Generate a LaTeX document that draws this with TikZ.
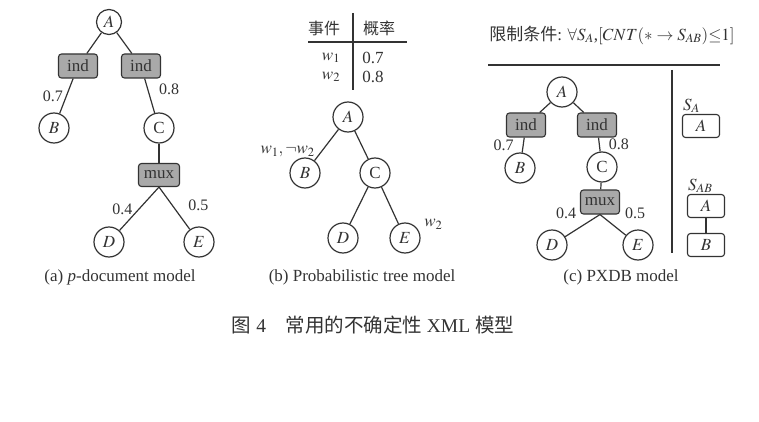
\documentclass[tikz,border=0pt]{standalone}
\usepackage{mathptmx}
\usepackage{fontspec}
\setmainfont{Liberation Serif}
\newfontfamily\cjk{Noto Sans CJK SC}
\usetikzlibrary{positioning}
\definecolor{opfill}{HTML}{A9A9A9}
\definecolor{ink}{HTML}{333333}

\begin{document}
\begin{tikzpicture}[x=1pt, y=-1pt,
  font=\fontsize{17}{20}\selectfont,
  every node/.style={text=ink},
  vtx/.style={circle, draw=ink, line width=1.2pt, minimum size=30pt, inner sep=0pt, fill=white},
  op/.style={draw=ink, fill=opfill, rounded corners=3pt, line width=1.1pt, minimum width=39pt, minimum height=24pt, inner sep=0pt},
  sbox/.style={draw=ink, rounded corners=3pt, line width=1.1pt, minimum width=37pt, minimum height=23pt, inner sep=0pt},
  lnk/.style={draw=ink, line width=1.2pt},
  rule/.style={draw=ink, line width=1.3pt},
  prob/.style={font=\fontsize{16}{18}\selectfont, inner sep=1pt},
  captxt/.style={font=\fontsize{17}{20}\selectfont}]
\useasboundingbox (0,0) rectangle (759,422);

% (a) p-document
\node[vtx, minimum size=25pt] (aA) at (109,22) {$A$};
\node[op] (aI1) at (78,66) {ind};
\node[op] (aI2) at (141,66) {ind};
\node[vtx] (aB) at (54,128) {$B$};
\node[vtx] (aC) at (159,128) {C};
\node[op, minimum width=41pt, minimum height=23pt] (aM) at (159,175) {mux};
\node[vtx] (aD) at (109,242) {$D$};
\node[vtx] (aE) at (199,242) {$E$};
\draw[lnk] (aA) -- (aI1);
\draw[lnk] (aA) -- (aI2);
\draw[lnk] (aI1) -- node[prob, left=2pt] {0.7} (aB);
\draw[lnk] (aI2) -- node[prob, right=10pt, pos=0.3] {0.8} (aC);
\draw[lnk] (aC) -- (aM);
\draw[lnk] (aM.south) -- node[prob, xshift=-17pt, yshift=-1pt] {0.4} (aD);
\draw[lnk] (aM.south) -- node[prob, xshift=24pt, yshift=3pt] {0.5} (aE);
\node[captxt] (capA) at (120,277) {(a)~\textit{p}-document model};

% (b) probabilistic tree
\node[font=\fontsize{16}{18}\selectfont] (hEvt) at (324,28) {\cjk 事件};
\node[font=\fontsize{16}{18}\selectfont] (hPr) at (379,28) {\cjk 概率};
\node (w1) at (331,58) {$w_1$};
\node (p1) at (373,58) {0.7};
\node (w2) at (331,77) {$w_2$};
\node (p2) at (373,77) {0.8};
\draw[rule] (308,42) -- (407,42);
\draw[rule] (353,13) -- (353,90);
\node[vtx] (bA) at (348,117) {$A$};
\node[vtx] (bB) at (305,173) {$B$};
\node[vtx] (bC) at (375,173) {C};
\node[vtx] (bD) at (343,238) {$D$};
\node[vtx, label={[inner sep=1pt, label distance=4pt]22:$w_2$}] (bE) at (405,238) {$E$};
\draw[lnk] (bA) -- node[anchor=east, pos=0.8, xshift=-3pt, yshift=3pt, inner sep=1pt] {$w_1,\neg w_2$} (bB);
\draw[lnk] (bA) -- (bC);
\draw[lnk] (bC) -- (bD);
\draw[lnk] (bC) -- (bE);
\node[captxt] (capB) at (362,277) {(b)~Probabilistic tree model};

% (c) PXDB
\node (cons) at (612,35) {{\cjk 限制条件}: $\forall S_A$,$[CNT(\ast\rightarrow S_{AB}){\leq}1]$};
\draw[rule] (488,65) -- (720,65);
\draw[rule] (672,70) -- (672,253);
\node[vtx] (cA) at (562,92) {$A$};
\node[op] (cI1) at (526,125) {ind};
\node[op] (cI2) at (597,125) {ind};
\node[vtx] (cB) at (520,168) {$B$};
\node[vtx] (cC) at (602,167) {C};
\node[op] (cM) at (600,202) {mux};
\node[vtx] (cD) at (552,245) {$D$};
\node[vtx] (cE) at (638,245) {$E$};
\draw[lnk] (cA) -- (cI1);
\draw[lnk] (cA) -- (cI2);
\draw[lnk] (cI1) -- node[prob, left=8pt] {0.7} (cB);
\draw[lnk] (cI2) -- node[prob, right=8pt] {0.8} (cC);
\draw[lnk] (cC) -- (cM);
\draw[lnk] (cM.south) -- node[prob, pos=0.2, xshift=-27pt, yshift=6pt] {0.4} (cD);
\draw[lnk] (cM.south) -- node[prob, pos=0.2, xshift=30pt, yshift=5pt] {0.5} (cE);
\node[sbox] (sA) at (701,126) {$A$};
\node[anchor=south west, inner sep=1pt] (lsA) at (sA.north west) {$S_A$};
\node[sbox] (sAB1) at (706,206) {$A$};
\node[sbox] (sAB2) at (706,245) {$B$};
\node[anchor=south west, inner sep=1pt] (lsAB) at (sAB1.north west) {$S_{AB}$};
\draw[lnk] (sAB1) -- (sAB2);
\node[captxt] (capC) at (621,277) {(c)~PXDB model};

% figure caption
\node[font=\fontsize{19.5}{23}\selectfont] (fig) at (373,325) {{\cjk 图} 4\quad{\cjk 常用的不确定性} XML {\cjk 模型}};
\end{tikzpicture}
\end{document}
